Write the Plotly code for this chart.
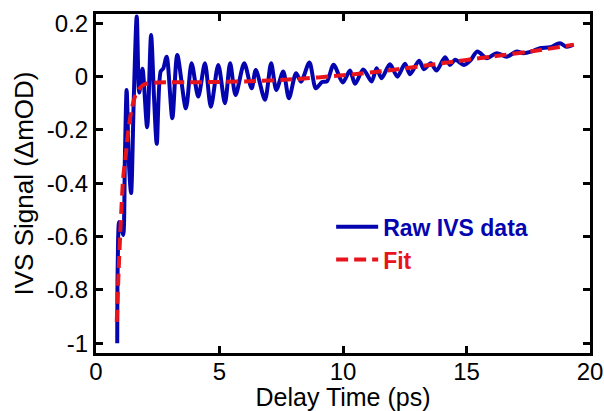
import plotly.graph_objects as go

# ---- data ----
raw_x = [0.86, 0.88, 0.94, 1.02, 1.10, 1.17, 1.24, 1.33, 1.42, 1.53, 1.65, 1.75, 1.88,
         2.07, 2.23, 2.35, 2.46, 2.62, 2.72, 2.86, 3.09, 3.29, 3.64, 3.87, 4.14, 4.41,
         4.65, 4.95, 5.22, 5.43, 5.65, 6.00, 6.30, 6.47, 6.84, 7.09, 7.30, 7.58, 7.81,
         8.10, 8.30, 8.64, 8.90, 9.15, 9.35, 9.62, 9.99, 10.28, 10.49, 10.82, 11.16,
         11.36, 11.56, 11.90, 12.20, 12.51, 12.71, 13.08, 13.28, 13.55, 13.79, 14.13,
         14.33, 14.54, 14.90, 15.15, 15.44, 15.82, 16.22, 16.63, 17.03, 17.30, 17.65,
         17.97, 18.38, 18.78, 19.05, 19.32]
raw_y = [-1.0, -0.70, -0.545, -0.565, -0.594, -0.30, -0.05, -0.32, -0.437, -0.08, 0.226,
         -0.06, 0.03, -0.19, 0.156, -0.08, -0.252, 0.02, 0.03, 0.075, -0.156, 0.081,
         -0.119, 0.050, -0.075, 0.050, -0.113, 0.044, -0.10, 0.050, -0.069, 0.050,
         -0.044, 0.025, -0.087, 0.050, -0.050, 0.019, -0.081, 0.0125, -0.019, 0.053,
         -0.044, -0.02, -0.018, 0.045, -0.022, 0.023, -0.027, 0.027, -0.018, 0.031,
         -0.006, 0.046, 0.0, 0.048, 0.009, 0.060, 0.028, 0.050, 0.023, 0.073, 0.044,
         0.063, 0.044, 0.06, 0.094, 0.069, 0.088, 0.075, 0.094, 0.088, 0.095, 0.107,
         0.110, 0.125, 0.112, 0.119]

fit_x = [0.84, 0.92, 1.0, 1.1, 1.2, 1.3, 1.4, 1.5, 1.6, 1.75, 1.9, 2.1, 2.5, 4.0, 6.0,
         8.0, 10.0, 12.0, 14.0, 16.0, 18.0, 19.35]
fit_y = [-0.92, -0.72, -0.55, -0.38, -0.30, -0.21, -0.145, -0.10, -0.07, -0.046, -0.032,
         -0.025, -0.022, -0.021, -0.018, -0.010, 0.005, 0.025, 0.050, 0.075, 0.100, 0.120]

x_ticks = [0, 5, 10, 15, 20]
x_ticktext = ["0", "5", "10", "15", "20"]
y_ticks = [-1, -0.8, -0.6, -0.4, -0.2, 0, 0.2]
y_ticktext = ["-1", "-0.8", "-0.6", "-0.4", "-0.2", "0", "0.2"]

BLUE = "#0505B0"
RED = "#E8141C"

fig = go.Figure()
fig.add_trace(go.Scatter(
    x=raw_x, y=raw_y, mode="lines",
    line=dict(color=BLUE, width=4, shape="spline", smoothing=0.8),
    name=f"<b><span style='color:{BLUE}'>Raw IVS data</span></b>"))
fig.add_trace(go.Scatter(
    x=fit_x, y=fit_y, mode="lines",
    line=dict(color=RED, width=4, dash="12px,6px", shape="spline", smoothing=0.6),
    name=f"<b><span style='color:{RED}'>Fit</span></b>"))

axis_common = dict(showline=True, linewidth=3, linecolor="black", mirror="ticks",
                   ticks="inside", ticklen=7, tickwidth=3, tickcolor="black",
                   showgrid=False, zeroline=False, automargin=False,
                   tickfont=dict(size=24, color="black"))

fig.update_xaxes(range=[0, 20], tickvals=x_ticks, ticktext=x_ticktext,
                 ticklabelstandoff=-5,
                 title=dict(text="Delay Time (ps)", font=dict(size=25), standoff=6),
                 **axis_common)
fig.update_yaxes(range=[-1.037, 0.235], tickvals=y_ticks, ticktext=y_ticktext,
                 title=dict(text="IVS Signal (ΔmOD)", font=dict(size=26), standoff=6),
                 **axis_common)

fig.update_layout(
    width=604, height=411,
    margin=dict(l=96, r=14, t=14, b=58),
    plot_bgcolor="white", paper_bgcolor="white",
    font=dict(family="Liberation Sans, Arial, sans-serif", size=24, color="black"),
    showlegend=True,
    legend=dict(x=0.476, y=0.436, xanchor="left", yanchor="top", itemwidth=42,
                bgcolor="rgba(0,0,0,0)", font=dict(size=23)),
)

fig.write_html("out.html")
